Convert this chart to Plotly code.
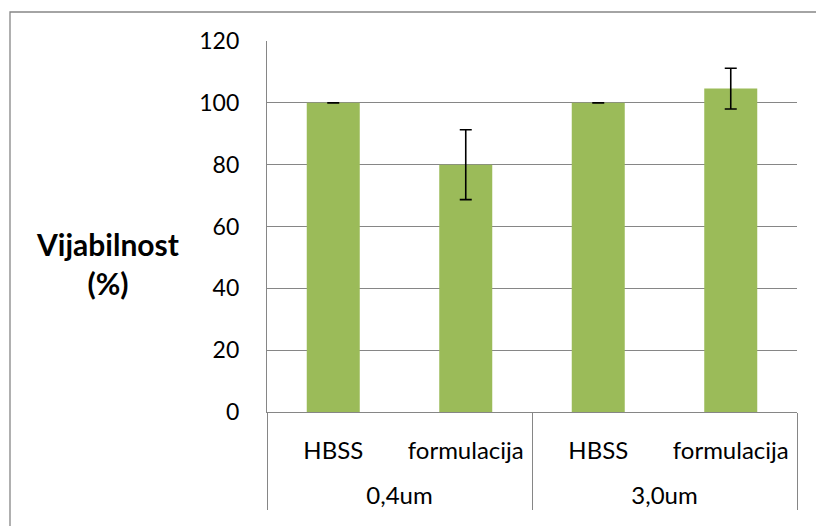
import plotly.graph_objects as go

groups = ["0,4um", "0,4um", "3,0um", "3,0um"]
treatments = ["HBSS", "formulacija", "HBSS", "formulacija"]
viability = [100.0, 80.0, 100.0, 104.6]
viability_err = [0.0, 11.3, 0.0, 6.6]
y_ticks = [0, 20, 40, 60, 80, 100, 120]

W, H = 816, 526
ML, MR, MT, MB = 267, 19, 41, 114
pw = W - ML - MR
ph = H - MT - MB

GRID = "#868686"
FONT = "Lato, 'Open Sans', sans-serif"

# an extra blank line under each inner label pushes the outer (group) row down,
# like the taller label table of the original
inner_labels = [t + "<br>\u00a0" for t in treatments]

fig = go.Figure()
fig.add_trace(go.Bar(
    x=[groups, inner_labels],
    y=viability,
    marker=dict(color="#9BBB59", line=dict(width=0)),
    error_y=dict(type="data", array=viability_err, visible=True,
                 color="#000000", thickness=1.6, width=6),
    showlegend=False,
))

fig.update_layout(
    width=W, height=H,
    margin=dict(l=ML, r=MR, t=MT, b=MB, pad=0),
    paper_bgcolor="white", plot_bgcolor="white",
    bargap=0.6,
    font=dict(family=FONT, size=24, color="#000000"),
    xaxis=dict(
        type="multicategory",
        showline=True, linecolor=GRID, linewidth=1.3,
        showgrid=False, ticks="",
        showdividers=True, dividercolor=GRID, dividerwidth=1.3,
        ticklabelstandoff=17,
        tickfont=dict(family=FONT, size=24, color="#000000"),
    ),
    yaxis=dict(
        range=[0, 120], tickvals=y_ticks,
        showline=True, linecolor=GRID, linewidth=1.3,
        showgrid=True, gridcolor=GRID, gridwidth=1.3,
        ticks="", ticklabelstandoff=22,
        zeroline=False,
        tickfont=dict(family=FONT, size=23, color="#000000"),
    ),
    annotations=[dict(
        text="<b>Vijabilnost</b><br><b>(%)</b>",
        xref="paper", yref="paper",
        x=(107 - ML) / pw, y=(MT + ph - 263) / ph,
        showarrow=False, xanchor="center", yanchor="middle",
        font=dict(family=FONT, size=30, color="#000000"),
        align="center",
    )],
    shapes=[dict(
        type="rect", xref="paper", yref="paper",
        x0=(10 - ML) / pw, x1=(W + 20 - ML) / pw,
        y0=(MT + ph - (H + 20)) / ph, y1=(MT + ph - 12) / ph,
        line=dict(color=GRID, width=1.3), fillcolor="rgba(0,0,0,0)",
        layer="below",
    )],
)

fig.write_html(
    "out.html",
    config={"displayModeBar": False},
    post_script="document.body.style.margin='0';document.body.style.overflow='hidden';",
)
